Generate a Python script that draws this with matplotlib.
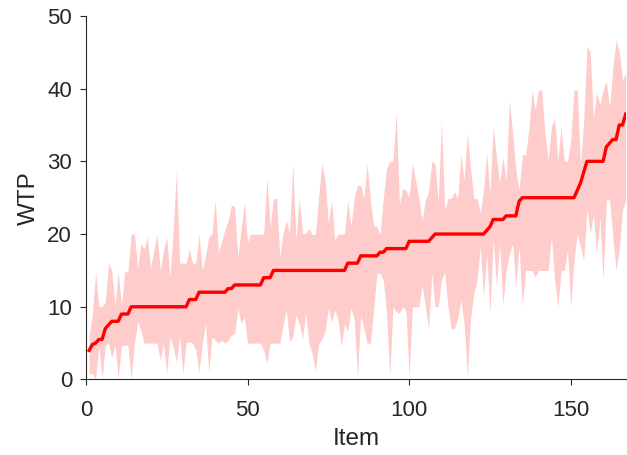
import matplotlib
matplotlib.use("Agg")
import matplotlib.pyplot as plt
import numpy as np

plt.rcParams["font.family"] = ["Liberation Sans", "DejaVu Sans"]

# WTP per item: median and the range around it
median = [4, 4.8, 5, 5.5, 5.5, 7, 7.5, 8, 8, 8, 9, 9, 9,
          10, 10, 10, 10, 10, 10, 10, 10, 10, 10, 10, 10, 10, 10, 10, 10, 10, 10,
          11, 11, 11,
          12, 12, 12, 12, 12, 12, 12, 12, 12,
          12.5, 12.5,
          13, 13, 13, 13, 13, 13, 13, 13, 13,
          14, 14, 14,
          15, 15, 15, 15, 15, 15, 15, 15, 15, 15, 15, 15, 15, 15, 15, 15, 15, 15, 15, 15, 15, 15, 15,
          16, 16, 16, 16,
          17, 17, 17, 17, 17, 17,
          17.5, 17.5,
          18, 18, 18, 18, 18, 18, 18,
          19, 19, 19, 19, 19, 19, 19,
          19.5,
          20, 20, 20, 20, 20, 20, 20, 20, 20, 20, 20, 20, 20, 20, 20, 20,
          20.5, 21,
          22, 22, 22, 22,
          22.5, 22.5, 22.5, 22.5,
          24.5,
          25, 25, 25, 25, 25, 25, 25, 25, 25, 25, 25, 25, 25, 25, 25, 25, 25,
          26, 27, 28.5,
          30, 30, 30, 30, 30, 30,
          32, 32.5, 33, 33, 35, 35, 36.5]

upper = [6, 9, 14.8, 10, 10, 10.7, 16, 15, 10.2, 14.8,
         10.2, 14.8, 14.8, 20, 20, 15.3, 18.7, 18, 19.6, 15.3,
         17.8, 20, 15, 17.8, 19.6, 14.1, 20.3, 28.8, 16, 16,
         16, 18, 16, 16, 20, 15, 17, 19.6, 20, 24.7,
         17.5, 18.9, 20.6, 21.9, 24, 23.8, 16.9, 20.6, 24.4, 18.9,
         20, 20, 20, 20, 20, 27.7, 21, 24.9, 24.9, 16.9,
         20.1, 21.9, 20.1, 29.7, 19.2, 24.9, 20.1, 20.1, 20.8, 19.9,
         20, 25.1, 29.7, 27.4, 21.5, 24.7, 19.2, 20, 20, 20,
         24.7, 21, 25.1, 26.7, 26.7, 24.9, 29.7, 24.7, 21.2, 21,
         19.9, 24.9, 29, 30, 30, 36.8, 24, 26.3, 26, 25.1,
         29.7, 27.4, 24.9, 21.9, 24.7, 25.8, 30, 29.7, 24.4, 35.7,
         23.3, 24.9, 24.9, 25.8, 24.9, 30.9, 27.4, 33.9, 29, 24.9,
         24.9, 23, 26, 31.1, 25.6, 34.8, 30.6, 27, 30.6, 27.4,
         38.4, 33.9, 28.8, 26.1, 30.9, 30.9, 34.3, 39.8, 37.1, 39.8,
         39.8, 33.9, 30.2, 34.8, 35.9, 30.2, 34.8, 30, 30, 33,
         39.8, 39.8, 29.3, 35.7, 45.8, 45.1, 35.9, 39.6, 37.8, 39.8,
         41, 37.5, 42.8, 46.7, 45.1, 41.2, 42.1]

lower = [0.8, 0.8, 0.1, 4.7, 0.1, 4.7, 5, 2.9, 4.7, 0.1,
         4.7, 4.7, 4.7, 0, 5, 7.9, 6.8, 5, 5, 5,
         5, 5, 2.7, 5, 0.8, 5.9, 4.5, 2.4, 5.9, 0.8,
         5, 5.2, 5, 4, 1, 5, 7.7, 1, 5.9, 5.4,
         5, 5.4, 5, 5.4, 6.1, 6.3, 9.8, 7.7, 8.6, 5,
         5, 5, 5, 5, 4, 2.2, 5, 5, 5, 5,
         7.5, 9.5, 5.2, 5.9, 8.9, 7.7, 5.6, 9.1, 5, 3.6,
         1.1, 5, 5.5, 6.6, 9.8, 7.9, 9.5, 8.2, 4.5, 7.7,
         6.6, 9.8, 8.2, 0.4, 8.9, 7, 5, 5, 9.5, 14.6,
         14.6, 13.7, 9.1, 0.4, 10, 9.3, 9.1, 10, 9.5, 0.4,
         10, 10, 10, 13, 10, 7, 14.6, 10, 10, 13.7,
         14.8, 10, 7, 7, 8.4, 10.9, 7.7, 0.4, 8.4, 11.8,
         13.7, 18.3, 11.4, 17.3, 9.1, 19.4, 12.8, 18.7, 10.2, 15,
         17.3, 18.7, 12.8, 18.3, 10.2, 15, 15, 15, 14.1, 15,
         15, 15, 15, 19.6, 13.7, 10, 15, 15, 17.8, 10,
         16.4, 19.9, 18.3, 16.4, 23.5, 20.1, 22.6, 17.3, 22.2, 13.7,
         24.7, 24.7, 19.6, 15, 17.8, 23.3, 24.7]

items = np.arange(1, len(median) + 1)

fig = plt.figure(figsize=(6.27, 4.55), dpi=100)
ax = fig.add_axes([0.137, 0.166, 0.861, 0.799])

ax.fill_between(items, lower, upper, color='#ffcccc', linewidth=0)
ax.plot(items, median, color='#ff0000', linewidth=2.4)

ax.set_xlim(0, len(median))
ax.set_ylim(0, 50)
ax.set_xticks([0, 50, 100, 150])
ax.set_yticks([0, 10, 20, 30, 40, 50])

for s in ['top', 'right']:
    ax.spines[s].set_visible(False)
for s in ['left', 'bottom']:
    ax.spines[s].set_color('#262626')
    ax.spines[s].set_linewidth(0.8)
ax.tick_params(direction='out', length=4, width=0.8, colors='#262626', labelsize=16)
ax.tick_params(axis='x', pad=10.5)
ax.tick_params(axis='y', pad=6)

ax.set_xlabel("Item", fontsize=17.5, color='#262626', labelpad=5)
ax.set_ylabel("WTP", fontsize=17.5, color='#262626', labelpad=5)

plt.savefig("out.png", dpi=100)
